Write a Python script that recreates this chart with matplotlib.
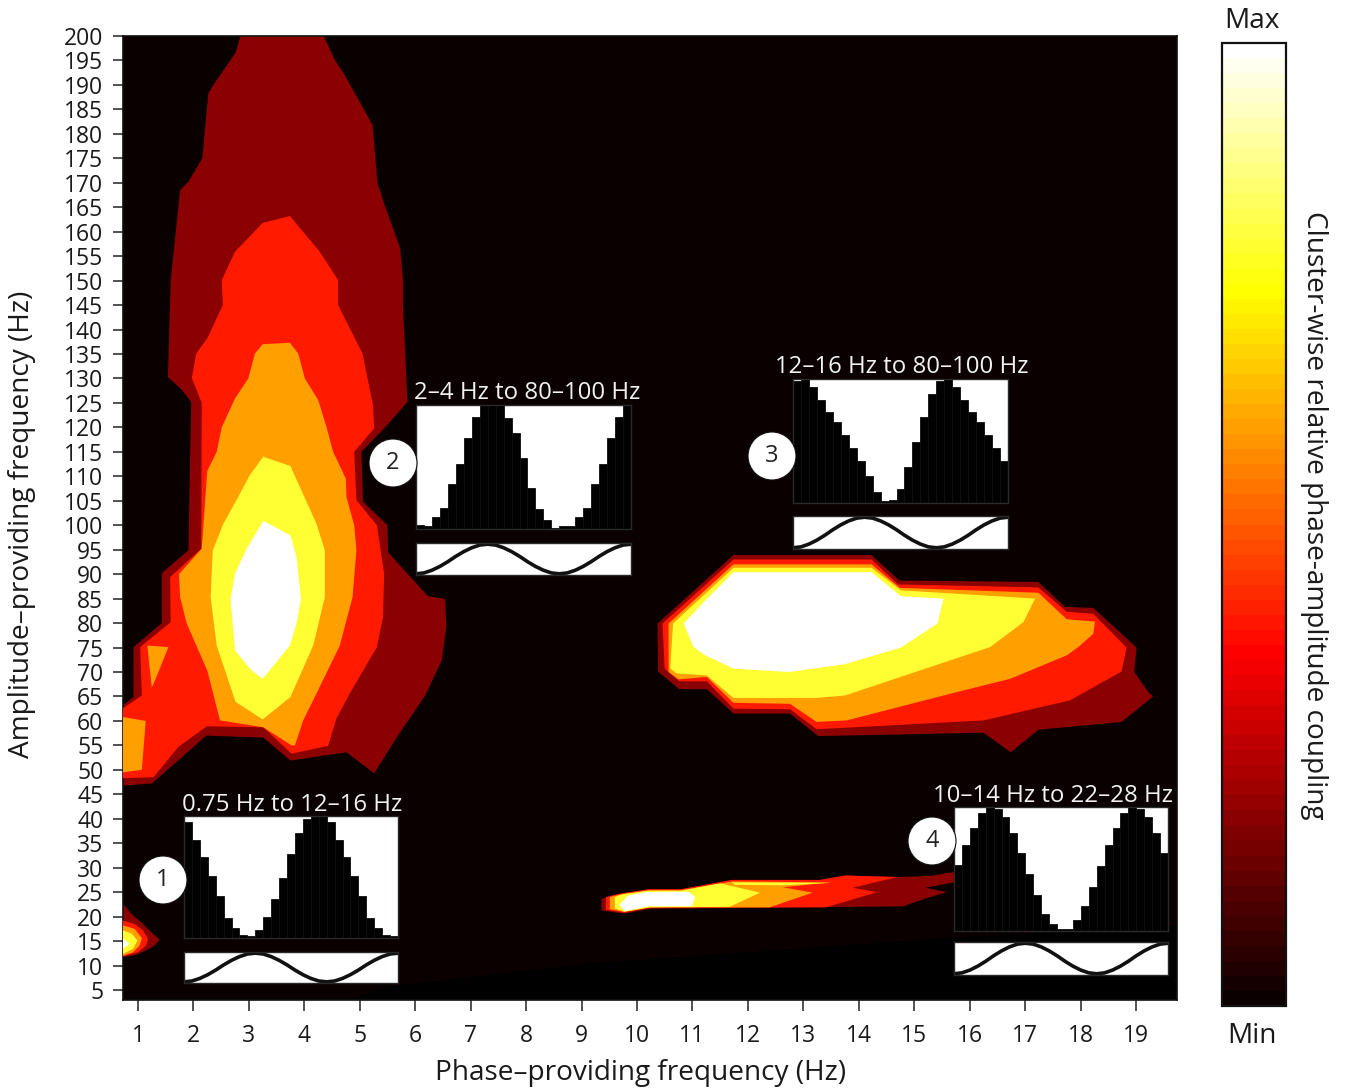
import matplotlib
matplotlib.use("Agg")
import matplotlib.pyplot as plt
from matplotlib.patches import Circle
from matplotlib.cm import ScalarMappable
from matplotlib.colors import Normalize

plt.rcParams['font.family'] = ['Open Sans', 'DejaVu Sans']

W, H = 1345, 1091
freq_ticks = list(range(1, 20))
amp_ticks = list(range(5, 205, 5))
level_colors = ['#8b0000', '#ff1a00', '#ff9f00', '#ffff33', '#ffffff']
bg_color = '#0a0000'

# ---- low-frequency / high-amplitude cluster ----
main1_f = [2.85,2.76,2.36,2.27,2.16,1.91,1.76,1.59,1.54,1.78,1.96,1.91,1.43,1.43,0.92,0.92,0.73,0.73,1.25,1.76,2.23,3.26,3.75,4.76,5.26,5.67,6.18,6.48,6.56,6.54,6.23,5.73,5.51,5.5,5.06,5.03,5.49,5.86,5.78,5.78,5.73,5.46,5.32,5.23,4.73,4.55,4.35]
main1_a = [200,196.6,190,188.3,175,170.2,168.5,150,130.3,127.8,125.2,94.9,90.2,80,75.1,64.9,63.2,46.8,47.2,52.3,57,56.6,51.9,53.6,49.3,56.7,65.2,72.4,79.2,84.9,85.5,91.7,94.5,100,104.8,115,120.4,125.2,145,150,156.6,165.1,169.9,181.8,192,195.1,200]
main2_f = [3.74,3.25,2.75,2.51,2.53,2.25,2.05,1.97,2.15,2.14,1.58,1.59,1.04,1.07,0.73,0.73,1.28,1.73,2.24,3.26,3.77,4.43,4.58,4.82,5.31,5.42,5.44,5.31,4.94,4.9,5.26,5.24,5.05,4.61,4.61,4.28]
main2_a = [163.2,161.8,155.9,150.1,145,138.2,135.1,130.1,125,95.2,89.4,80.2,75.1,65.2,62.6,48.3,48.5,54.7,58.9,58.7,53.3,54.9,60.5,65.6,75.1,81.2,90.1,100,105.1,115,119.8,124.5,135.1,145,150.1,155.9]
main3_f = [3.74,3.25,3.11,2.99,2.75,2.51,2.42,2.25,2.15,1.74,1.76,1.88,2.25,2.48,3.26,3.77,3.83,3.98,4.22,4.64,4.87,4.94,4.9,4.76,4.75,4.52,4.4,4.25,4.01,3.89]
main3_a = [137.3,137,135.1,130,125.9,120,115,111.1,95.2,90,85.3,79.9,70.3,60.1,58.7,55,55,60.1,65.6,75.4,85.3,94.9,100,105.8,109.5,115,120.1,125.6,130,135.1]
main4_f = [3.26,3.02,2.78,2.54,2.35,2.31,2.42,2.76,3.25,3.75,4.16,4.37,4.37,4.22,3.75]
main4_a = [114,110.3,105.2,100.3,94.9,85.3,75.4,63.9,60.3,64.9,75.4,85.3,94.9,100.3,112.1]
main5_f = [3.26,2.96,2.75,2.67,2.75,3.05,3.25,3.74,3.86,3.94,3.86,3.75,3.41]
main5_a = [100.9,95.2,90.1,84.9,74.4,70.3,68.6,75.4,79.9,84.9,93.5,97.9,100]
patch_a_f = [1.17,1.55,1.38,1.25,1.19]
patch_a_a = [75.4,75.1,70.3,66.8,73]
patch_b_f = [0.73,1.14,1.07,0.73]
patch_b_a = [60.8,60,50,49.5]

# ---- 0.75 Hz / 15 Hz cluster ----
low1_f = [0.73,0.88,1.09,1.24,1.39,1.3,1.15,0.94,0.73]
low1_a = [22.6,20.6,18.5,16.8,15.3,14.1,13.1,12.1,11.7]
low2_f = [0.73,0.94,1.09,1.18,1.15,1.0,0.73]
low2_a = [19.2,18.5,17.2,15.5,14.1,12.7,11.9]
low3_f = [0.73,0.94,1.07,1.03,0.91,0.73]
low3_a = [18.2,17.5,15.6,14.1,12.7,12]
low4_f = [0.73,0.89,0.99,0.91,0.73]
low4_a = [17.2,16.5,15.1,13.4,12.4]
low5_f = [0.73,0.85,0.73]
low5_a = [15.5,14.4,13.5]

# ---- 12-16 Hz / 80-100 Hz cluster ----
right1_f = [11.74,14.23,14.73,17.24,17.72,18.23,19.01,18.97,19.22,19.31,18.74,17.24,16.74,16.25,13.27,12.76,11.74,11.26,10.76,10.38,10.37]
right1_a = [93.9,93.9,88.7,88.4,83.3,83.1,75,70,65.9,65,59.8,58.2,53.6,57.6,56.9,61.5,61.5,66.5,66.5,70.1,79.9]
right2_f = [11.74,14.23,14.71,17.24,17.75,18.23,18.83,18.74,17.81,16.25,13.24,12.76,11.74,11.26,10.76,10.5,10.46]
right2_a = [93,93,87.9,87.3,82.3,81.9,75,70.1,64.2,60.1,58.3,62.4,62.5,68.1,68.1,70.7,79.9]
right3_f = [11.74,14.23,14.74,17.24,17.75,18.26,18.23,17.96,17.75,16.73,15.77,13.78,13.24,12.76,11.74,11.26,10.75,10.57,10.57]
right3_a = [92,92,87.2,86.2,80.8,80.3,77.8,75.1,73.4,68.6,65.9,60.1,59.8,63.5,63.7,69,68.5,70,79.9]
right4_f = [11.74,14.23,14.76,17.18,16.97,16.37,13.75,13.24,11.74,11.26,10.72,10.6,10.65]
right4_a = [91.3,91.3,86.7,85,80.2,75.1,65.2,64.7,64.7,69.3,69.7,70.7,79.9]
right5_f = [11.74,14.23,14.76,15.53,15.42,14.76,13.75,12.75,11.74,11.23,11.02,10.84,11.23]
right5_a = [90.4,90.4,85.5,85,79.9,75,71.6,70,70.7,73.4,75.1,79.9,84.6]

# ---- 10-14 Hz / 22-28 Hz cluster ----
beta1_f = [9.36,9.36,9.77,10.24,14.8,15.18,15.59,15.2,15.72,15.72,15.28,14.7,13.75,13.3,11.71,10.79,10.21,9.69,9.46]
beta1_a = [23.65,21.25,20.6,21.6,22.1,23.65,25,25.9,27,29.1,28.3,28.1,28.4,27.5,27.5,25.6,25.6,24.7,24]
beta2_f = [9.44,9.44,9.77,10.24,13.41,14.33,13.89,14.7,13.75,13.3,11.71,10.79,10.21,9.69]
beta2_a = [24,21.4,20.8,21.8,21.9,25,25.9,28.1,28.4,27.5,27.5,25.6,25.6,24.7]
beta3_f = [9.51,9.51,9.77,10.24,12.39,13.17,12.63,13.5,11.73,10.79,10.21,9.69]
beta3_a = [24,21.5,21,21.9,21.9,24.9,26,27,27.2,25.4,25.4,24.5]
beta4_f = [9.6,9.6,9.77,10.24,11.67,12.22,11.5,10.79,10.21,9.75]
beta4_a = [24,21.7,21,21.9,22,24.9,26.8,25.3,25.3,24.6]
beta5_f = [9.68,9.84,10.14,10.93,11.05,10.99,10.2,9.78]
beta5_a = [22.4,24.3,25,25.1,24,22.1,22.1,21.1]
sliver_f = [11.71,13.5,12.63,11.77]
sliver_a = [27,26.9,26.4,26.5]

# darker wedge along the bottom
wedge_f = [4.8,5.65,9.15,15.7,19.74,19.74]
wedge_a = [3.06,5.9,10.4,15.7,18.2,3.06]

# ---- phase histograms: relative amplitude per phase bin ----
hist1 = [.954,.804,.665,.509,.343,.164,.08,.021,.016,.067,.174,.316,.488,.686,.861,.973,1,1,.952,.804,.665,.509,.343,.164,.08,.021,.016]
hist2 = [.035,.027,.094,.169,.362,.525,.737,.906,1,1,1,.893,.772,.571,.33,.164,.075,.008,.027,.027,.094,.169,.362,.525,.737,.906,1]
hist3 = [.981,1,.935,.833,.731,.653,.551,.444,.336,.215,.086,.013,.022,.116,.288,.492,.694,.879,.981,1,.935,.833,.731,.653,.551,.444,.336]
hist4 = [.53,.691,.831,.954,1,.987,.919,.793,.632,.457,.288,.14,.054,.019,.013,.086,.202,.355,.524,.691,.831,.954,1,.987,.919,.793,.632]
bin_index = list(range(27))
# reference oscillation under each histogram
wave_pos = [i / 27 for i in range(28)]
wave_val = [0,.03,.12,.25,.41,.59,.75,.88,.97,1,.97,.88,.75,.59,.41,.25,.12,.03,0,.03,.12,.25,.41,.59,.75,.88,.97,1]

inset_titles = ['0.75 Hz to 12–16 Hz', '2–4 Hz to 80–100 Hz', '12–16 Hz to 80–100 Hz', '10–14 Hz to 22–28 Hz']
inset_marks = ['1', '2', '3', '4']
inset_hists = [hist1, hist2, hist3, hist4]


def rect(l, t, r, b):
    return [l / W, 1 - b / H, (r - l) / W, (b - t) / H]


fig = plt.figure(figsize=(W / 100, H / 100), dpi=100, facecolor='white')
ax = fig.add_axes(rect(123, 36, 1177, 999.5), facecolor=bg_color)
ax.set_xlim(0.73, 19.74)
ax.set_ylim(3.06, 200)

ax.fill(wedge_f, wedge_a, color='#000000', lw=0, zorder=1)
groups = [
    [(main1_f, main1_a), (low1_f, low1_a), (right1_f, right1_a), (beta1_f, beta1_a)],
    [(main2_f, main2_a), (low2_f, low2_a), (right2_f, right2_a), (beta2_f, beta2_a)],
    [(main3_f, main3_a), (patch_a_f, patch_a_a), (patch_b_f, patch_b_a), (low3_f, low3_a), (right3_f, right3_a), (beta3_f, beta3_a)],
    [(main4_f, main4_a), (low4_f, low4_a), (right4_f, right4_a), (beta4_f, beta4_a), (sliver_f, sliver_a)],
    [(main5_f, main5_a), (low5_f, low5_a), (right5_f, right5_a), (beta5_f, beta5_a)],
]
for lev, polys in enumerate(groups):
    for f, a in polys:
        ax.fill(f, a, color=level_colors[lev], lw=0, zorder=2 + lev)

ax.set_xticks(freq_ticks)
ax.set_yticks(amp_ticks)
ax.tick_params(axis='y', length=7.2, width=1.1, color='#222222', labelsize=16.5, labelcolor='#1a1a1a', pad=7)
ax.tick_params(axis='x', length=8, width=1.1, color='#222222', labelsize=16.5, labelcolor='#1a1a1a', pad=10)
for s in ax.spines.values():
    s.set_color('#111111')
    s.set_linewidth(1.2)

# insets
hist_boxes = [(184, 816, 398, 938), (416, 405, 631, 529), (793, 379, 1008, 503), (954, 807, 1168, 931)]
wave_boxes = [(184, 952, 398, 983), (416, 543, 631, 575), (793, 516, 1008, 549), (954, 942, 1168, 975)]
for vals, hb, wb in zip(inset_hists, hist_boxes, wave_boxes):
    a1 = fig.add_axes(rect(*hb), facecolor='white')
    a1.bar(bin_index, vals, width=1, color='black', edgecolor='#0e0e0e', linewidth=0.6)
    a1.set_xlim(-0.5, 26.5)
    a1.set_ylim(0, 1)
    a1.set_xticks([])
    a1.set_yticks([])
    a2 = fig.add_axes(rect(*wb), facecolor='white')
    a2.plot(wave_pos, wave_val, color='#111111', lw=2.6, solid_capstyle='butt')
    a2.set_xlim(0, 1)
    a2.set_ylim(-0.04, 1.04)
    a2.set_xticks([])
    a2.set_yticks([])
    for a_ in (a1, a2):
        for s in a_.spines.values():
            s.set_color('#2a2a2a')
            s.set_linewidth(1.0)

# colour bar
cax = fig.add_axes(rect(1222, 43, 1286, 1006))
cb = fig.colorbar(ScalarMappable(norm=Normalize(0, 1), cmap=plt.get_cmap('hot', 64)), cax=cax)
cb.set_ticks([])
cb.outline.set_edgecolor('#111111')
cb.outline.set_linewidth(1.6)

# overlay in figure pixels for labels and badges
ov = fig.add_axes([0, 0, 1, 1], facecolor='none')
ov.set_xlim(0, W)
ov.set_ylim(H, 0)
ov.axis('off')
title_pos = [(292, 805), (527, 393), (902, 367), (1053, 796)]
for t, (x, y) in zip(inset_titles, title_pos):
    ov.text(x, y, t, color='#f2f2f2', fontsize=17.3, ha='center', va='center')
badge_pos = [(163, 880), (393, 463), (772, 456), (932, 841)]
for m, (x, y) in zip(inset_marks, badge_pos):
    ov.add_patch(Circle((x, y), 24, facecolor='white', edgecolor='#111111', lw=0.8))
    ov.text(x, y, m, color='#222222', fontsize=17, ha='center', va='center')
ov.text(641, 1073, 'Phase–providing frequency (Hz)', fontsize=20.2, color='#1a1a1a', ha='center', va='center')
ov.text(22, 524, 'Amplitude–providing frequency (Hz)', fontsize=20.2, color='#1a1a1a', rotation=90, ha='center', va='center')
ov.text(1314, 515, 'Cluster-wise relative phase-amplitude coupling', fontsize=20.2, color='#1a1a1a', rotation=270, ha='center', va='center')
ov.text(1252, 21, 'Max', fontsize=20.2, color='#1a1a1a', ha='center', va='center')
ov.text(1252, 1036, 'Min', fontsize=20.2, color='#1a1a1a', ha='center', va='center')

fig.savefig('out.png', dpi=100)
